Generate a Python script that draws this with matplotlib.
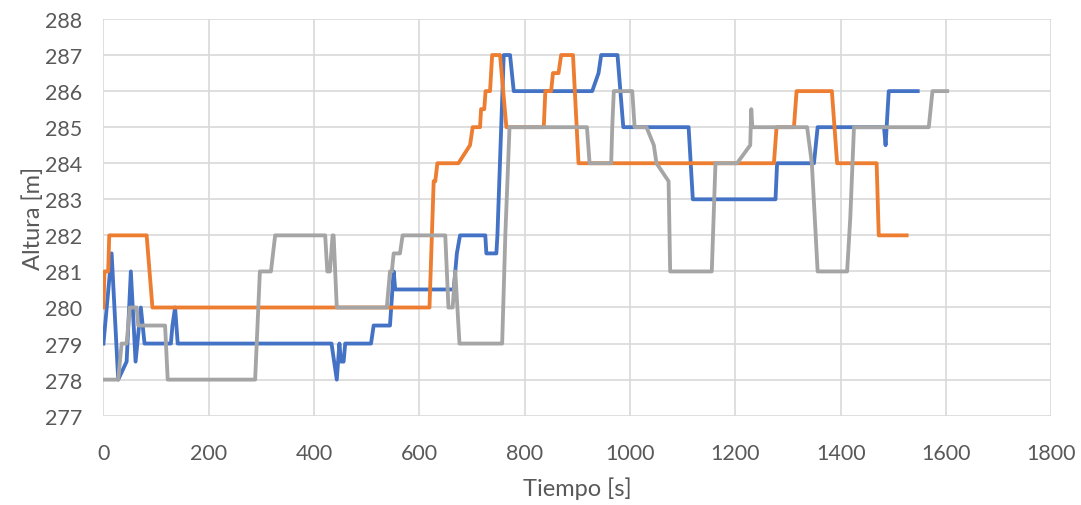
import matplotlib.pyplot as plt

# elevation traces of three runs, time in seconds / altitude in metres
t_blue = [0, 15.5, 28, 44, 52, 61, 71, 78, 128, 131, 136, 141, 433, 443, 448, 451, 456, 459,
          508, 513, 544, 551, 554, 665, 671, 677, 725, 727, 746, 748, 760, 772, 779, 928,
          940, 945, 976, 987, 1111, 1119, 1276, 1279, 1349, 1356, 1482, 1485, 1491, 1546]
h_blue = [279, 281.5, 278, 278.5, 281, 278.5, 280, 279, 279, 279.5, 280, 279, 279, 278, 279, 278.5, 278.5, 279,
          279, 279.5, 279.5, 281, 280.5, 280.5, 281.5, 282, 282, 281.5, 281.5, 282, 287, 287, 286, 286,
          286.5, 287, 287, 285, 285, 283, 283, 284, 284, 285, 285, 284.5, 286, 286]

t_orange = [0, 2, 9, 11, 82, 93, 619, 627, 630, 634, 674, 696, 701, 715, 717, 723, 725.5, 734,
            738, 753, 765, 836, 839, 850, 853.5, 864, 869, 891.5, 902, 1273, 1278, 1311, 1316,
            1383, 1393, 1468, 1472, 1525]
h_orange = [280, 281, 281, 282, 282, 280, 280, 283.5, 283.5, 284, 284, 284.5, 285, 285, 285.5, 285.5, 286, 286,
            287, 287, 285, 285, 286, 286, 286.5, 286.5, 287, 287, 284, 284, 285, 285, 286,
            286, 284, 284, 282, 282]

t_gray = [0, 28, 34.5, 44, 50, 63, 66, 117, 122, 288, 297, 318, 326, 421, 425, 430, 435, 437, 443,
          538, 544, 547.5, 551, 563, 568, 649, 655, 663, 668, 676, 757, 763, 771, 918, 923, 964,
          966, 969, 1004, 1008.5, 1031, 1045, 1050, 1073, 1076, 1155, 1162, 1203, 1228, 1230, 1232,
          1336, 1345, 1356, 1412, 1418, 1425, 1567, 1574, 1602]
h_gray = [278, 278, 279, 279, 280, 280, 279.5, 279.5, 278, 278, 281, 281, 282, 282, 281, 281, 282, 282, 280,
          280, 281, 281, 281.5, 281.5, 282, 282, 280, 280, 281, 279, 279, 282, 285, 285, 284, 284,
          285, 286, 286, 285, 285, 284.5, 284, 283.5, 281, 281, 284, 284, 284.5, 285.5, 285,
          285, 284, 281, 281, 282.5, 285, 285, 286, 286]

x_ticks = list(range(0, 1801, 200))
y_ticks = list(range(277, 289))

plt.rcParams['font.family'] = ['Lato', 'DejaVu Sans']

fig = plt.figure(figsize=(10.81, 5.06), dpi=100)
ax = fig.add_axes([0.0957, 0.1765, 0.877, 0.784])

ax.plot(t_blue, h_blue, color='#4472C4', lw=2.75, solid_joinstyle='round', zorder=3)
ax.plot(t_orange, h_orange, color='#ED7D31', lw=2.75, solid_joinstyle='round', zorder=3)
ax.plot(t_gray, h_gray, color='#A5A5A5', lw=2.75, solid_joinstyle='round', zorder=3)

ax.set_xlim(0, 1800)
ax.set_ylim(277, 288)
ax.set_xticks(x_ticks)
ax.set_yticks(y_ticks)
ax.grid(True, color='#D9D9D9', lw=1.2, zorder=0)
for side in ax.spines:
    ax.spines[side].set_visible(False)
ax.tick_params(length=0, labelsize=15.5, labelcolor='#595959')
ax.tick_params(axis='x', pad=20)
ax.tick_params(axis='y', pad=15)

ax.set_xlabel('Tiempo [s]', fontsize=17, color='#595959', labelpad=9)
ax.set_ylabel('Altura [m]', fontsize=17, color='#595959', labelpad=1)

fig.savefig('out.png', dpi=100)
